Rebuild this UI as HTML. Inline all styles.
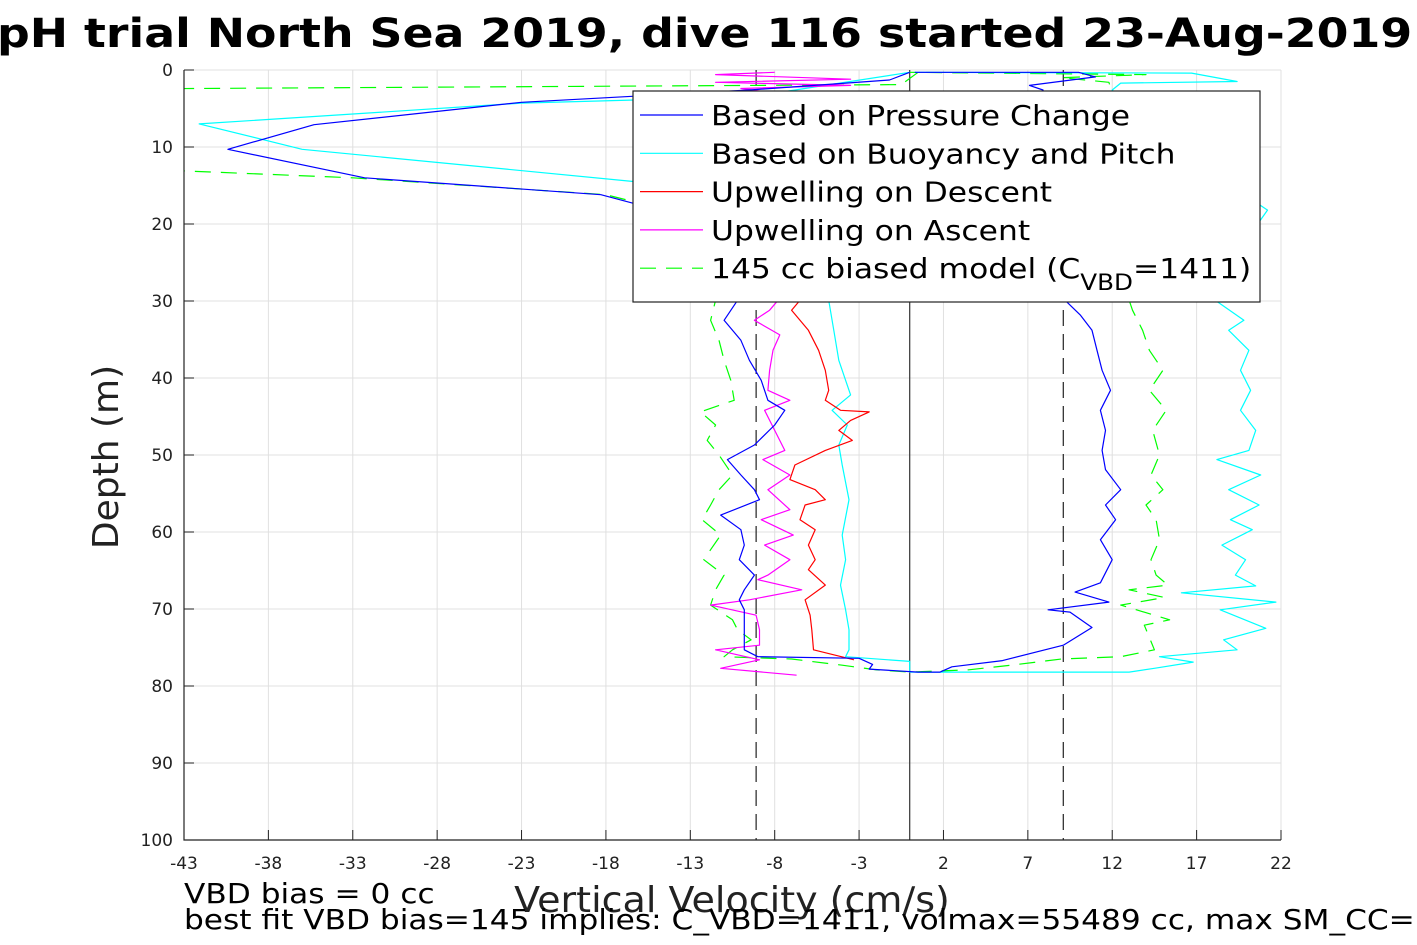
<!DOCTYPE html>
<html><head><meta charset="utf-8">
<style>
html,body{margin:0;padding:0;background:#fff;}
svg{display:block;font-family:"DejaVu Sans","Liberation Sans",sans-serif;}
</style></head>
<body>
<svg id="chart" width="1417" height="945" viewBox="0 0 1417 945" xmlns="http://www.w3.org/2000/svg">
<defs><clipPath id="plotclip"><rect x="184" y="70" width="1097" height="770"/></clipPath></defs>
<rect x="0" y="0" width="1417" height="945" fill="#fff"/>
<g transform="translate(-3,0) scale(1.145,1)">
<text x="0" y="47" font-size="40" font-weight="bold" fill="#000">pH trial North Sea 2019, dive 116 started 23-Aug-2019</text>
</g>
<rect x="184" y="70" width="1097" height="770" fill="#fff"/>
<g id="grid"></g>
<g id="series" clip-path="url(#plotclip)"></g>
<g id="axes"></g>
<text transform="translate(118,457) rotate(-90)" text-anchor="middle" font-size="36" fill="#222">Depth (m)</text>
<g transform="translate(732,0) scale(1.056,1) translate(-732,0)">
<text x="732" y="912" text-anchor="middle" font-size="36" fill="#222">Vertical Velocity (cm/s)</text>
</g>
<g transform="translate(184,0) scale(1.115,1) translate(-184,0)">
<text x="184" y="903" font-size="28" fill="#000">VBD bias = 0 cc</text>
<text x="184" y="929" font-size="28" fill="#000">best fit VBD bias=145 implies: C_VBD=1411, volmax=55489 cc, max SM_CC=</text>
</g>
<g id="legend">
<rect x="633" y="91" width="627" height="211" fill="#fff" stroke="#222" stroke-width="1.2"/>
<g id="legendText" transform="translate(711,0) scale(1.12,1) translate(-711,0)"></g>
</g>
</svg>
<script>
const xTicks=[-43,-38,-33,-28,-23,-18,-13,-8,-3,2,7,12,17,22];
const yTicks=[0,10,20,30,40,50,60,70,80,90,100];
const vbdBias=[-9.1,9.1];
const pressureDepth=[0.3,1.3,2.6,3.4,4.2,7.1,10.3,14,16.2,17.3,20,25,29.9,32.5,35.1,37.7,40.3,42.9,44.2,46.1,48.7,50.6,52.6,54.5,55.8,57.8,59.7,61.7,63.6,65.6,67.5,68.8,70.1,72.7,75.3,76.2,76.4,77.2,77.8,78.2,78.2,77.5,76.7,74.7,72.4,70.4,70.1,69.1,67.8,66.6,63.6,61.0,58.4,56.5,54.5,51.9,49.4,46.8,44.2,41.6,39.0,36.4,33.8,31.8,29.9,20,10,2.6,2.0,0.9,0.3,0.3];
const pressureVel=[0,-1.2,-9.5,-16.3,-23,-35.3,-40.4,-32.3,-18.3,-16.4,-12,-11,-10.2,-11,-10,-9.5,-8.8,-8.4,-7.4,-8,-9.2,-10.8,-10,-9.2,-8.9,-11.2,-10,-9.8,-10.1,-9.2,-9.8,-10.1,-9.8,-9.8,-9.8,-9,-3,-2.2,-2.4,0.5,1.8,2.5,5.5,9.1,10.8,9.5,8.2,11.8,9.8,11.3,12.0,11.3,12.2,11.6,12.5,11.6,11.4,11.6,11.3,11.9,11.4,11.1,10.8,10.1,9.2,9,8.5,7.9,7.1,11,10,0.3];
const buoyDepth=[0.3,3.0,3.9,4.3,7.0,10.3,14.5,20,25,29.9,33.8,37.7,40.3,42.2,44.2,46.1,48.7,51.3,55.8,60.4,63.6,66.9,70.1,72.7,75.3,76.2,76.8,78.2,78.2,77.7,76.9,76.2,75.3,74.0,72.5,70.1,69.1,67.9,67.0,65.6,63.6,61.7,59.7,58.4,56.5,54.5,52.6,50.6,49.4,46.8,44.2,41.6,39.0,36.4,33.8,32.5,29.9,25,18.2,12,2.6,1.7,1.5,0.4,0.3];
const buoyVel=[0,-8,-16.3,-23,-42.1,-36,-16.3,-8,-5.5,-4.8,-4.5,-4.2,-3.8,-3.5,-4.6,-3.7,-4.2,-4.0,-3.6,-4.0,-3.8,-4.1,-3.8,-3.6,-3.6,-3.8,0,0,13,14.5,16.8,14.8,19.4,18.6,21.1,18.4,21.7,16.1,20.5,19.3,19.9,18.5,20.3,19.0,20.7,18.9,20.8,18.2,20.1,20.5,19.6,20.2,19.6,20.1,18.9,19.8,18.1,19,21.2,17,12,12.5,19.4,16.7,0.3];
const upDescDepth=[17,29.9,31.2,33.8,36.4,39,41.6,42.9,44.2,44.4,45.5,46.8,48.1,49.4,51.3,53.2,54.5,55.8,56.5,58.4,59.7,61.7,63.6,64.9,66.9,68.8,70.8,72.7,75.3,76.6];
const upDescVel=[-6,-6.5,-7,-6,-5.4,-5,-4.8,-5.0,-4.1,-2.4,-3.5,-4.2,-3.4,-5.0,-6.8,-7.1,-5.6,-5.0,-6.2,-6.5,-5.6,-6.0,-5.6,-6.0,-5.0,-6.2,-5.9,-5.8,-5.7,-3.3];
const upAscDepth=[78.6,77.7,76.6,75.3,74.7,72.7,70.8,69.5,68.8,67.5,66.2,65.6,63.6,61.7,60.4,58.4,57.1,54.5,52.6,50.6,49.4,46.8,44.2,42.9,41.6,39,36.4,34.4,32.5,31.2,29.9,20,3,2.4,2.0,1.6,1.2,0.6,0.3];
const upAscVel=[-6.7,-11.2,-8.9,-11.5,-8.9,-8.9,-9.1,-11.8,-9.5,-6.4,-9,-8.4,-7.1,-8.6,-6.9,-8.8,-7.1,-8.4,-7.1,-8.7,-7.4,-8.0,-8.6,-7.1,-8.4,-8.3,-8.1,-7.7,-9.2,-8.3,-7.8,-8,-8,-10,-3.5,-11.5,-3.5,-11.5,-8];
const modelDepth=[0.3,1.9,2.4,2.5,13,13.1,14,16.2,17.3,20,29.9,32.5,35.1,37.7,40.3,42.9,44.4,46.1,48.1,50,52.6,54.5,56.5,58.4,60.4,62.3,63.6,65.6,67.5,69.5,71.4,72.7,74.0,75.3,76.2,76.5,77.3,77.9,78.2,77.9,77.3,76.5,76.2,75.3,72.1,71.4,69.5,68.5,67.5,66.9,65.6,63.6,61,58.4,56.5,54.5,52.6,50,46.8,44.2,41.6,39,36.4,33.8,31.2,29.9,20,3,1.6,1,0.6,0.3];
const modelVel=[0.5,-0.5,-42.5,-50,-50,-43,-33,-18,-16,-13,-11.5,-11.8,-11.3,-11.0,-10.6,-10.4,-12.4,-11.5,-12.0,-11.3,-10.5,-11.3,-11.8,-12.3,-11.2,-11.8,-12.2,-11.0,-11.5,-11.8,-10.5,-10.2,-9.4,-10.5,-11,-7,-4,-2,0,3.5,6,9,12.5,14.5,13.9,15.4,12.5,15.1,13,15.3,14.6,14.3,14.8,14.6,14.0,15,14.3,14.8,14.4,15.2,14.2,15.0,14.2,13.8,13.2,13,13,12,11.8,9,14,0];
const legendLabels=["Based on Pressure Change","Based on Buoyancy and Pitch","Upwelling on Descent","Upwelling on Ascent","145 cc biased model (C"];

const NS="http://www.w3.org/2000/svg";
const X0=184,X1=1281,Y0=70,Y1=840,XMIN=-43,XMAX=22,YMIN=0,YMAX=100;
function sx(v){return X0+(v-XMIN)/(XMAX-XMIN)*(X1-X0);}
function sy(d){return Y0+(d-YMIN)/(YMAX-YMIN)*(Y1-Y0);}
function mk(tag,attrs,parent){const e=document.createElementNS(NS,tag);for(const k in attrs)e.setAttribute(k,attrs[k]);parent.appendChild(e);return e;}
const grid=document.getElementById('grid'),axes=document.getElementById('axes'),series=document.getElementById('series'),legend=document.getElementById('legend'),legendText=document.getElementById('legendText');
xTicks.forEach(t=>{
  const g=mk('line',{x1:sx(t),x2:sx(t),y1:Y0,y2:Y1,stroke:'#e0e0e0','stroke-width':1},grid);
  
  
  const tk=mk('line',{x1:sx(t),x2:sx(t),y1:Y1,y2:Y1-10,stroke:'#222','stroke-width':1},axes);
  
  
  const tl=mk('text',{x:sx(t),y:869,'text-anchor':'middle','font-size':17,fill:'#222'},axes);
  tl.textContent=t;
  
  
});
yTicks.forEach(t=>{
  const g=mk('line',{x1:X0,x2:X1,y1:sy(t),y2:sy(t),stroke:'#e0e0e0','stroke-width':1},grid);
  
  
  const tk=mk('line',{x1:X0,x2:X0+10,y1:sy(t),y2:sy(t),stroke:'#222','stroke-width':1},axes);
  
  
  const tl=mk('text',{x:173,y:sy(t)+6,'text-anchor':'end','font-size':17,fill:'#222'},axes);
  tl.textContent=t;
  
  
});
const ax=mk('path',{d:`M${X0},${Y0}V${Y1}H${X1}`,fill:'none',stroke:'#222','stroke-width':1.2},axes);


const zl=mk('line',{x1:sx(0),x2:sx(0),y1:Y0,y2:Y1,stroke:'#333','stroke-width':1.2},series);


vbdBias.forEach(v=>{
  const l=mk('line',{x1:sx(v),x2:sx(v),y1:Y0,y2:Y1,stroke:'#222','stroke-width':1.2,'stroke-dasharray':'16,8'},series);
  
  
});
function drawLine(depths,vels,color,dash,name){
  let d='';for(let i=0;i<depths.length;i++){d+=(i?'L':'M')+sx(vels[i]).toFixed(1)+','+sy(depths[i]).toFixed(1);}
  const p=mk('path',{d:d,fill:'none',stroke:color,'stroke-width':1.2,'stroke-linejoin':'round'},series);
  if(dash)p.setAttribute('stroke-dasharray',dash);
  
  
}
drawLine(modelDepth,modelVel,'#00ff00','16,10','series-biased-model');
drawLine(buoyDepth,buoyVel,'#00ffff',null,'series-buoyancy-pitch');
drawLine(upDescDepth,upDescVel,'#ff0000',null,'series-upwelling-descent');
drawLine(upAscDepth,upAscVel,'#ff00ff',null,'series-upwelling-ascent');
drawLine(pressureDepth,pressureVel,'#0000ff',null,'series-pressure-change');
const lc=['#0000ff','#00ffff','#ff0000','#ff00ff','#00ff00'];
legendLabels.forEach((lab,i)=>{
  const y=115+i*38.3;
  const l=mk('line',{x1:640,x2:703,y1:y,y2:y,stroke:lc[i],'stroke-width':1.2},legend);
  if(i===4)l.setAttribute('stroke-dasharray','16,10');
  
  
  const t=mk('text',{x:711,y:y+10,'font-size':28,fill:'#000'},legendText);
  
  
  if(i===4){
    t.textContent=lab;
    const s=mk('tspan',{dy:12,'font-size':22},t);s.textContent='VBD';
    const r=mk('tspan',{dy:-12},t);r.textContent='=1411)';
  } else t.textContent=lab;
});
</script>
</body></html>
